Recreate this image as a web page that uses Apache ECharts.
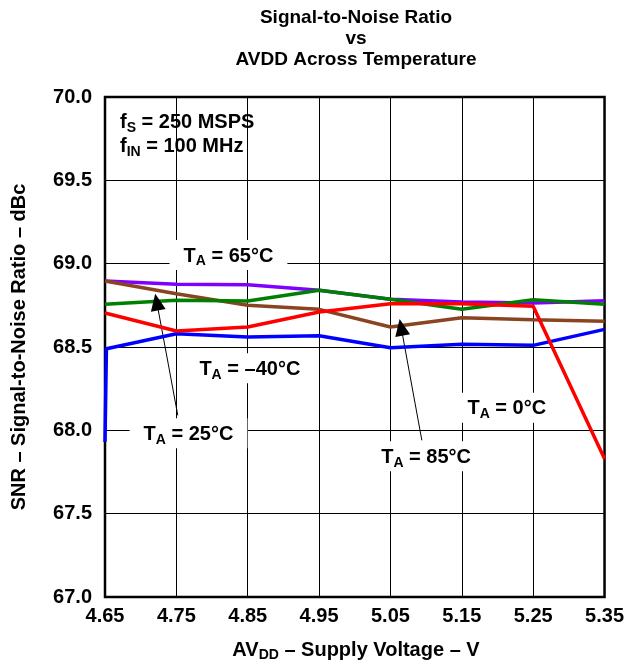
<!DOCTYPE html>
<html>
<head>
<meta charset="utf-8">
<script src="https://cdn.jsdelivr.net/npm/echarts@6/dist/echarts.min.js"></script>
<style>html,body{margin:0;padding:0;background:#fff;}#c{width:627px;height:665px;}</style>
</head>
<body>
<div id="c"></div>
<script>
// ---- data ----
const xValues = [4.65, 4.75, 4.85, 4.95, 5.05, 5.15, 5.25, 5.35];
const ta65 = [68.896, 68.876, 68.874, 68.84, 68.786, 68.77, 68.764, 68.778];
const ta85 = [68.896, 68.82, 68.75, 68.726, 68.62, 68.676, 68.664, 68.654];
const ta25 = [68.756, 68.78, 68.776, 68.84, 68.786, 68.726, 68.784, 68.756];
const ta0  = [68.704, 68.596, 68.62, 68.71, 68.76, 68.76, 68.744, 67.83];
const taM40x = [4.65, 4.652, 4.75, 4.85, 4.95, 5.05, 5.15, 5.25, 5.35];
const taM40  = [67.93, 68.49, 68.58, 68.56, 68.568, 68.496, 68.516, 68.51, 68.606];
const yTicks = [67.0, 67.5, 68.0, 68.5, 69.0, 69.5, 70.0];
const titleLines = ['Signal-to-Noise Ratio', 'vs', 'AVDD Across Temperature'];
// annotation anchors in data space
const notes = [
  {x: 4.671, y: 69.865, main: 'f', sub: 'S',  rest: ' = 250 MSPS', align: 'left', box: false},
  {x: 4.671, y: 69.72,  main: 'f', sub: 'IN', rest: ' = 100 MHz',  align: 'left', box: false},
  {x: 4.823, y: 69.07,  main: 'T', sub: 'A', rest: ' = 65°C',  align: 'center', box: true},
  {x: 4.853, y: 68.39,  main: 'T', sub: 'A', rest: ' = –40°C', align: 'center', box: true},
  {x: 4.767, y: 68.0,   main: 'T', sub: 'A', rest: ' = 25°C',  align: 'center', box: true},
  {x: 5.10,  y: 67.862, main: 'T', sub: 'A', rest: ' = 85°C',  align: 'center', box: true},
  {x: 5.213, y: 68.153, main: 'T', sub: 'A', rest: ' = 0°C',   align: 'center', box: true}
];
const arrows = [
  {from: [4.752, 68.09], to: [4.7225, 68.77]},
  {from: [5.094, 67.94], to: [5.065, 68.618]}
];

const FONT = "'Liberation Sans', Arial, sans-serif";
const rich = {
  m: {fontSize: 20, fontWeight: 'bold', fontFamily: FONT, color: '#000', lineHeight: 22},
  s: {fontSize: 14, fontWeight: 'bold', fontFamily: FONT, color: '#000', lineHeight: 14, padding: [11, 0, 0, 0]}
};

const chart = echarts.init(document.getElementById('c'), null, {renderer: 'canvas'});

function pairs(xs, ys) { return xs.map((x, i) => [x, ys[i]]); }

const lineSeries = (name, xs, ys, color, z) => ({
  name, type: 'line', data: pairs(xs, ys), symbol: 'none', z,
  lineStyle: {color, width: 3.5}, itemStyle: {color}, animation: false
});

chart.setOption({
  animation: false,
  grid: {left: 105, right: 21, top: 97, bottom: 68, show: true, borderColor: '#000', borderWidth: 2.5, backgroundColor: 'transparent'},
  xAxis: {
    type: 'value', min: 4.65, max: 5.35, interval: 0.05,
    axisLine: {show: false}, axisTick: {show: false},
    splitLine: {show: true, lineStyle: {color: ['#000', 'rgba(0,0,0,0)'], width: 1}},
    axisLabel: {
      margin: 9, color: '#000', fontSize: 20, fontWeight: 'bold', fontFamily: FONT,
      formatter: v => (Math.round(v * 100) % 10 === 5 ? v.toFixed(2) : '')
    }
  },
  yAxis: {
    type: 'value', min: yTicks[0], max: yTicks[yTicks.length - 1], interval: 0.5,
    axisLine: {show: false}, axisTick: {show: false},
    splitLine: {show: true, lineStyle: {color: '#000', width: 1}},
    axisLabel: {margin: 13, color: '#000', fontSize: 20, fontWeight: 'bold', fontFamily: FONT, formatter: v => v.toFixed(1)},
    name: 'SNR – Signal-to-Noise Ratio – dBc', nameLocation: 'middle', nameRotate: 90, nameGap: 76,
    nameTextStyle: {color: '#000', fontSize: 20, fontWeight: 'bold', fontFamily: FONT}
  },
  series: [
    lineSeries('TA = 65°C', xValues, ta65, '#8000ff', 2),
    lineSeries('TA = 85°C', xValues, ta85, '#8b4421', 3),
    lineSeries('TA = 25°C', xValues, ta25, '#008000', 4),
    lineSeries('TA = –40°C', taM40x, taM40, '#0000ff', 5),
    lineSeries('TA = 0°C', xValues, ta0, '#ff0000', 6),
    {
      name: 'arrows', type: 'line', data: [], z: 8, silent: true,
      markLine: {
        silent: true, animation: false, label: {show: false},
        symbol: ['none', 'triangle'], symbolSize: [0, 16],
        lineStyle: {color: '#000', width: 1, type: 'solid'},
        emphasis: {disabled: true},
        data: arrows.map(a => [{coord: a.from}, {coord: a.to, symbol: 'triangle', symbolSize: [15, 17]}])
      }
    }
  ]
});

const graphics = [];
graphics.push({
  type: 'text', z: 100, x: 356, y: 7,
  style: {text: titleLines.join('\n'), align: 'center', verticalAlign: 'top', fontSize: 19, fontWeight: 'bold', fontFamily: FONT, lineHeight: 21, fill: '#000'}
});
graphics.push({
  type: 'text', z: 100, x: 356, y: 650,
  style: {text: '{m|AV}{s|DD}{m| – Supply Voltage – V}', rich, align: 'center', verticalAlign: 'middle'}
});
notes.forEach(n => {
  const p = chart.convertToPixel({gridIndex: 0}, [n.x, n.y]);
  const st = {text: '{m|' + n.main + '}{s|' + n.sub + '}{m|' + n.rest + '}', rich, align: n.align, verticalAlign: 'middle'};
  if (n.box) { st.backgroundColor = '#fff'; st.padding = [5, 14, 3, 14]; }
  graphics.push({type: 'text', z: 100, x: p[0], y: p[1] + 3, style: st});
});
chart.setOption({graphic: graphics});
</script>
</body>
</html>
